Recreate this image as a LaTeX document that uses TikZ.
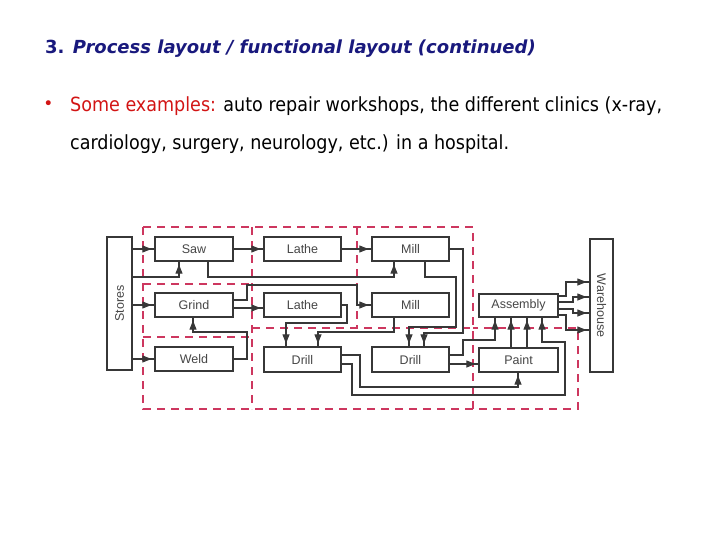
\documentclass[tikz,border=0pt]{standalone}
\usepackage{fontspec}
\setmainfont{DejaVu Sans}
\newfontfamily\bodyfont{DejaVu Sans Condensed}
\newfontfamily\boxfont{Liberation Sans}
\usetikzlibrary{arrows.meta}
\definecolor{navy}{RGB}{25,25,125}
\definecolor{bred}{RGB}{210,20,20}
\definecolor{dept}{RGB}{205,55,95}
\definecolor{ln}{RGB}{55,55,55}
\definecolor{boxtxt}{RGB}{70,70,70}
\tikzset{
  box/.style={draw=ln, line width=1.2pt, fill=white, text=boxtxt,
    font=\boxfont\fontsize{12.5}{14}\selectfont, inner sep=0pt,
    minimum width=77pt, minimum height=24pt},
  con/.style={draw=ln, line width=1.2pt},
  tipshape/.tip={Triangle[length=9pt,width=7pt]},
  arr/.style={con, postaction={draw=ln, line width=1pt, -tipshape, shorten >=3pt}},
  deptline/.style={draw=dept, line width=1.5pt, dash pattern=on 8pt off 6pt},
}
\begin{document}
\begin{tikzpicture}[x=1pt,y=-1pt]
\useasboundingbox (0,0) rectangle (720,540);
% header text
\node[anchor=base west, inner sep=0pt, font=\fontsize{18}{20}\selectfont\bfseries, text=navy] (title) at (45,54) {3. \textit{Process layout / functional layout (continued)}};
\node[inner sep=0pt, text=bred, font=\fontsize{17}{18}\selectfont] (bullet) at (48.5,105) {•};
\node[anchor=base west, inner sep=0pt, font=\bodyfont\fontsize{19.5}{22}\selectfont] (l1) at (70,112) {\textcolor{bred}{Some examples:} auto repair workshops, the different clinics (x-ray,};
\node[anchor=base west, inner sep=0pt, font=\bodyfont\fontsize{19.5}{22}\selectfont] (l2) at (70,150) {cardiology, surgery, neurology, etc.) in a hospital.};
% department outlines
\draw[deptline] (143,227) -- (473,227) -- (473,409);
\draw[deptline] (143,227) -- (143,409) -- (578,409) -- (578,328) -- (473,328);
\draw[deptline] (252,227) -- (252,409);
\draw[deptline] (357,227) -- (357,328);
\draw[deptline] (143,284) -- (252,284);
\draw[deptline] (143,337) -- (252,337);
\draw[deptline] (252,328) -- (473,328);
% boxes
\node[box, minimum width=25pt, minimum height=133pt] (stores) at (119.5,303.5) {\rotatebox{90}{Stores}};
\node[box, minimum width=78pt] (saw) at (194,249) {Saw};
\node[box, minimum width=78pt] (grind) at (194,305) {Grind};
\node[box, minimum width=78pt] (weld) at (194,359) {Weld};
\node[box] (lathe1) at (302.5,249) {Lathe};
\node[box] (mill1) at (410.5,249) {Mill};
\node[box] (lathe2) at (302.5,305) {Lathe};
\node[box] (mill2) at (410.5,305) {Mill};
\node[box, minimum height=25pt] (drill1) at (302.5,359.5) {Drill};
\node[box, minimum height=25pt] (drill2) at (410.5,359.5) {Drill};
\node[box, minimum width=79pt, minimum height=23pt] (assembly) at (518.5,305.5) {Assembly};
\node[box, minimum width=79pt] (paint) at (518.5,360) {Paint};
\node[box, minimum width=23pt, minimum height=133pt] (warehouse) at (601.5,305.5) {\rotatebox{-90}{Warehouse}};
% connectors
\draw[arr] (stores.east |- saw.west) -- (saw.west);
\draw[arr] (stores.east |- 0,277) -| (saw.south -| 179,0);
\draw[arr] (stores.east |- grind.west) -- (grind.west);
\draw[arr] (stores.east |- weld.west) -- (weld.west);
\draw[arr] (saw.east) -- (lathe1.west);
\draw[arr] (saw.south -| 208,0) -- (208,277) -| (mill1.south -| 394,0);
\draw[arr] (grind.east |- 0,300) -| (247,285) -| (357,305) -- (mill2.west);
\draw[arr] (grind.east |- 0,308) -- (lathe2.west |- 0,308);
\draw[arr] (weld.east) -| (247,332) -| (grind.south -| 193,0);
\draw[arr] (lathe1.east) -- (mill1.west);
\draw[arr] (lathe2.east) -| (347,323) -| (drill1.north -| 286,0);
\draw[arr] (mill2.south -| 394,0) |- (318,332) -- (drill1.north -| 318,0);
\draw[arr] (mill1.east) -| (463,333) -| (drill2.north -| 424,0);
\draw[arr] (mill1.south -| 425,0) |- (456,277) |- (409,327) -- (drill2.north -| 409,0);
\draw[arr] (drill1.east |- 0,355) -| (360,387) -| (paint.south -| 518,0);
\draw[arr] (drill1.east |- 0,364) -| (352,395) -| (565,342) -| (assembly.south -| 542,0);
\draw[arr] (drill2.east |- 0,355) -| (463,340) -| (assembly.south -| 495,0);
\draw[arr] (drill2.east |- 0,364) -- (paint.west |- 0,364);
\draw[arr] (paint.north -| 511,0) -- (assembly.south -| 511,0);
\draw[arr] (paint.north -| 527,0) -- (assembly.south -| 527,0);
\draw[arr] (assembly.east |- 0,296) -| (566,282) -- (warehouse.west |- 0,282);
\draw[arr] (assembly.east |- 0,302) -| (573,297) -- (warehouse.west |- 0,297);
\draw[arr] (assembly.east |- 0,309) -| (573,313) -- (warehouse.west |- 0,313);
\draw[arr] (assembly.east |- 0,315) -| (566,330) -- (warehouse.west |- 0,330);
\end{tikzpicture}
\end{document}
